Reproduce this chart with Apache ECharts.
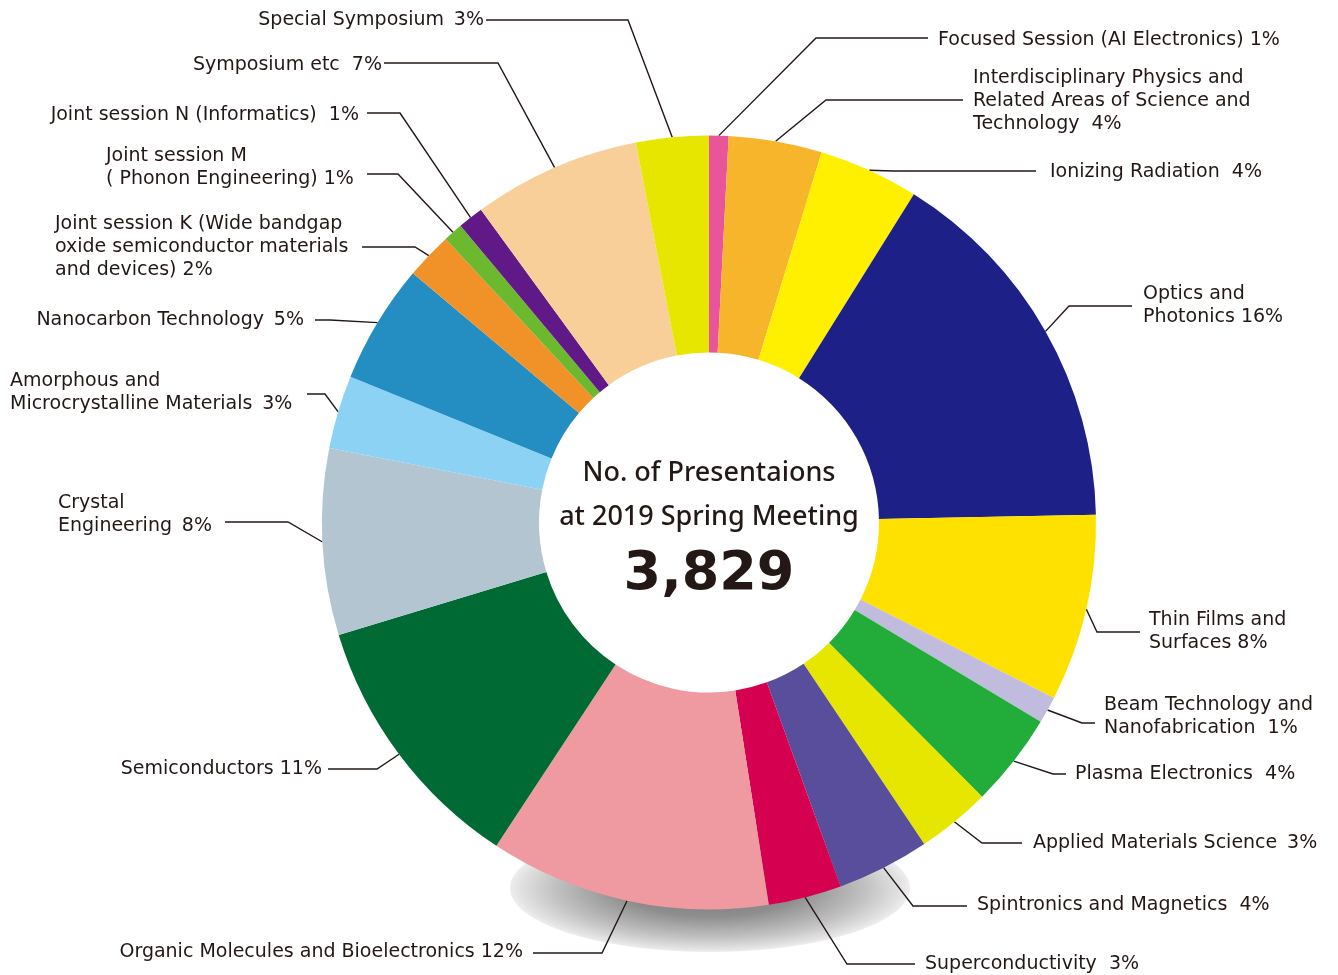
<!DOCTYPE html>
<html>
<head>
<meta charset="utf-8">
<script src="https://cdn.jsdelivr.net/npm/echarts@6/dist/echarts.min.js"></script>
<style>
html,body{margin:0;padding:0;background:#ffffff;}
#chart{width:1338px;height:975px;}
</style>
</head>
<body>
<div id="chart"></div>
<script>
// ---- data ----
const categories = [
  'Focused Session (AI Electronics)',
  'Interdisciplinary Physics and\nRelated Areas of Science and\nTechnology',
  'Ionizing Radiation',
  'Optics and\nPhotonics',
  'Thin Films and\nSurfaces',
  'Beam Technology and\nNanofabrication',
  'Plasma Electronics',
  'Applied Materials Science',
  'Spintronics and Magnetics',
  'Superconductivity',
  'Organic Molecules and Bioelectronics',
  'Semiconductors',
  'Crystal\nEngineering',
  'Amorphous and\nMicrocrystalline Materials',
  'Nanocarbon Technology',
  'Joint session K (Wide bandgap\noxide semiconductor materials\nand devices)',
  'Joint session M\n( Phonon Engineering)',
  'Joint session N (Informatics)',
  'Symposium etc',
  'Special Symposium'
];
const values = [31, 149, 160, 605, 299, 43, 150, 118, 148, 117, 449, 423, 298, 117, 191, 75, 31, 41, 268, 116];
const colors = ['#e8559b','#f7b52c','#fff000','#1d2087','#ffe100','#c1bbdd','#22ac39','#e7e600','#584e9c','#d60050',
                '#ef9aa1','#006a35','#b3c5d0','#8cd2f5','#248dc1','#f19228','#6cb92f','#601986','#f8cf98','#e7e600'];
const centerTitle = ['No. of Presentaions', 'at 2019 Spring Meeting'];
const totalLabel = '3,829';

// ---- label placement (layout only): text anchor, leader elbow/end, gap before the percentage ----
const N1 = ' ', MID = ' \u2009', WIDE = '  ';
const labelLayoutCfg = [
  {x:938,  y:40,  align:'left',  elbow:[816,38],  end:[928,38],  sep:N1},
  {x:973,  y:101, align:'left',  elbow:[826,100], end:[963,100], sep:WIDE},
  {x:1050, y:172, align:'left',  elbow:[893,171], end:[1036,171],sep:WIDE},
  {x:1143, y:306, align:'left',  elbow:[1069,306],end:[1132,306],sep:N1},
  {x:1149, y:632, align:'left',  elbow:[1097,632],end:[1140,632],sep:N1},
  {x:1104, y:717, align:'left',  elbow:[1082,723],end:[1095,723],sep:WIDE},
  {x:1075, y:774, align:'left',  elbow:[1053,774],end:[1066,774],sep:WIDE},
  {x:1033, y:843, align:'left',  elbow:[982,843], end:[1022,843],sep:MID},
  {x:977,  y:905, align:'left',  elbow:[913,906], end:[967,906], sep:WIDE},
  {x:925,  y:964, align:'left',  elbow:[847,964], end:[915,964], sep:WIDE},
  {x:523,  y:952, align:'right', elbow:[602,953], end:[533,953], sep:N1},
  {x:322,  y:769, align:'right', elbow:[377,769], end:[328,769], sep:N1},
  {x:58,   y:515, align:'left',  elbow:[288,522], end:[225,522], sep:MID},
  {x:10,   y:393, align:'left',  elbow:[325,394], end:[307,394], sep:MID},
  {x:304,  y:320, align:'right', elbow:[330,320], end:[315,320], sep:MID},
  {x:55,   y:247, align:'left',  elbow:[415,247], end:[362,247], sep:N1},
  {x:106,  y:168, align:'left',  elbow:[398,174], end:[367,174], sep:N1},
  {x:359,  y:115, align:'right', elbow:[400,113], end:[367,113], sep:WIDE},
  {x:382,  y:65,  align:'right', elbow:[498,63],  end:[384,63],  sep:WIDE},
  {x:484,  y:20,  align:'right', elbow:[628,20],  end:[486,20],  sep:MID}
];

const total = values.reduce((a, b) => a + b, 0);
const INK = '#231815';
const LABEL_FONT = '"DejaVu Sans", "Noto Sans", sans-serif';
const TITLE_FONT = '"Noto Sans", "Noto Sans CJK JP", sans-serif';

const chart = echarts.init(document.getElementById('chart'), null, {renderer: 'canvas'});

chart.setOption({
  backgroundColor: '#ffffff',
  animation: false,
  graphic: [
    {
      type: 'circle', x: 710, y: 888, scaleY: 0.32, z: -10,
      shape: {cx: 0, cy: 0, r: 200},
      style: {
        fill: {
          type: 'radial', x: 0.5, y: 0.5, r: 0.5,
          colorStops: [
            {offset: 0, color: '#777777'},
            {offset: 0.45, color: '#8e8e8e'},
            {offset: 0.78, color: '#c2c2c2'},
            {offset: 0.96, color: '#e4e4e4'},
            {offset: 1, color: '#eeeeee'}
          ]
        }
      }
    },
    {type: 'text', x: 709, y: 473, z: 10,
     style: {text: centerTitle[0], fill: INK, font: '500 27px ' + TITLE_FONT, textAlign: 'center', textVerticalAlign: 'middle'}},
    {type: 'text', x: 709, y: 517, z: 10,
     style: {text: centerTitle[1], fill: INK, font: '500 27px ' + TITLE_FONT, textAlign: 'center', textVerticalAlign: 'middle'}},
    {type: 'text', x: 709, y: 575, z: 10,
     style: {text: totalLabel, fill: INK, font: 'bold 54px "DejaVu Sans", ' + TITLE_FONT, textAlign: 'center', textVerticalAlign: 'middle'}}
  ],
  series: [{
    type: 'pie',
    center: [709, 522.5],
    radius: [170, 387],
    startAngle: 90,
    clockwise: true,
    avoidLabelOverlap: false,
    silent: true,
    data: categories.map((c, i) => ({name: c, value: values[i], itemStyle: {color: colors[i]}})),
    itemStyle: {borderWidth: 0},
    label: {
      show: true,
      position: 'outside',
      color: INK,
      fontSize: 19,
      lineHeight: 23,
      fontFamily: LABEL_FONT,
      formatter: p => p.name + labelLayoutCfg[p.dataIndex].sep + Math.round(p.value / total * 100) + '%'
    },
    labelLine: {
      show: true,
      length: 20,
      length2: 20,
      smooth: false,
      lineStyle: {color: INK, width: 1.4}
    },
    labelLayout: function (p) {
      const L = labelLayoutCfg[p.dataIndex];
      const start = p.labelLinePoints ? p.labelLinePoints[0] : L.elbow;
      return {
        x: L.x, y: L.y, align: L.align, verticalAlign: 'middle',
        labelLinePoints: [start, L.elbow, L.end]
      };
    }
  }]
});
</script>
</body>
</html>
